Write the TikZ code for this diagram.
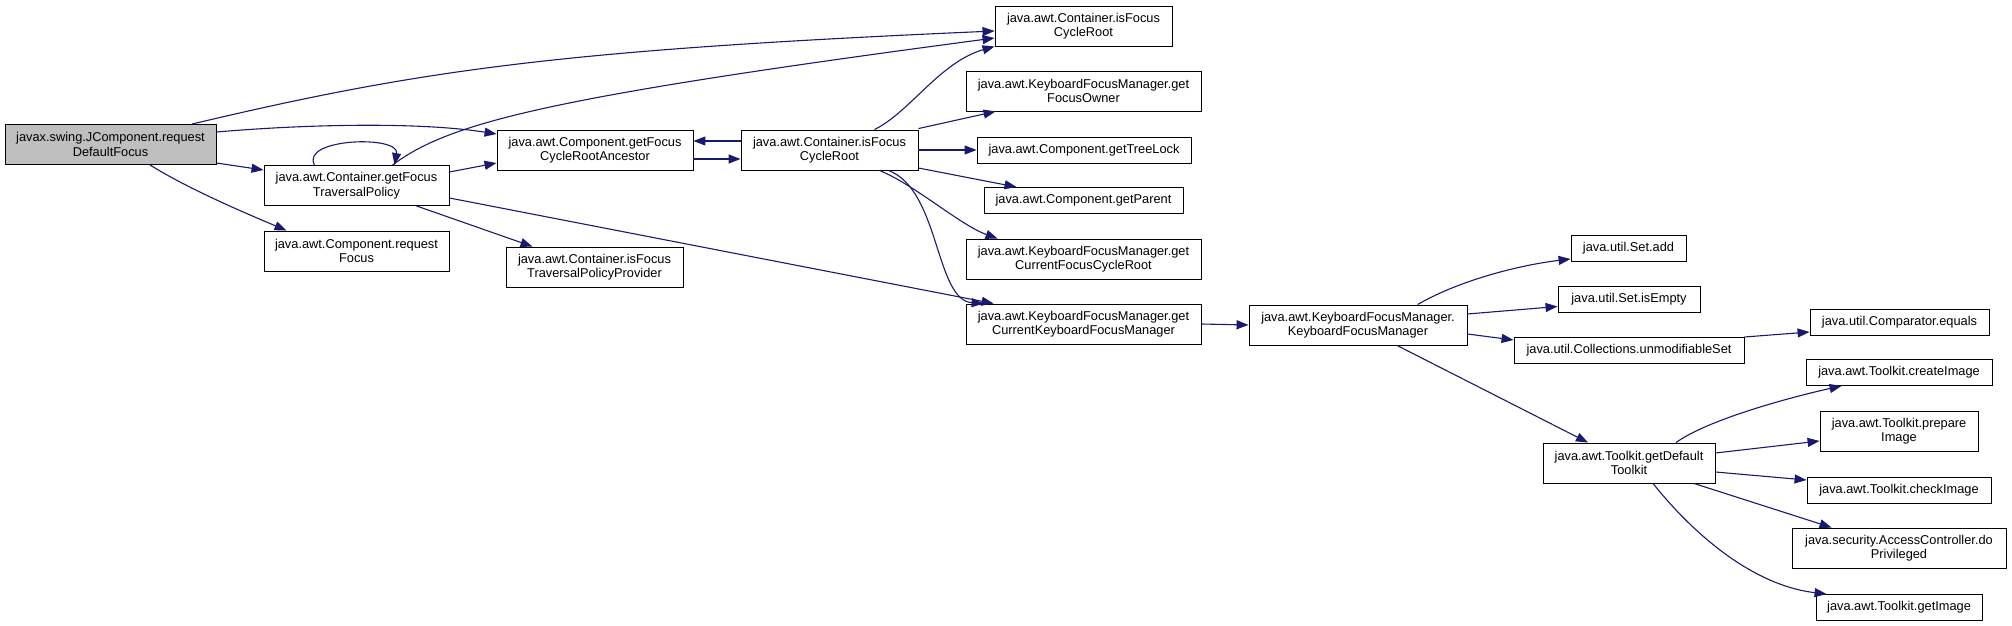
\documentclass[tikz,border=0pt]{standalone}
\usepackage{fontspec}
\setmainfont{Liberation Sans}
\usetikzlibrary{arrows.meta, calc}

\definecolor{edgeblue}{RGB}{25,25,112}
\definecolor{rootgray}{RGB}{191,191,191}

\begin{document}
\begin{tikzpicture}[
    x=1pt, y=-1pt,
    box/.style={draw=black, line width=0.9pt, fill=white, inner sep=0pt, minimum height=40pt, align=center, font=\fontsize{12.8}{14.5}\selectfont},
    onebox/.style={box, minimum height=26pt},
    arrow/.style={-{Triangle[length=12pt, width=9pt]}, edgeblue, line width=1.1pt}
]
\useasboundingbox (0,0) rectangle (2012,626);

% --- Caller ---
\node[box, fill=rootgray, minimum width=211pt] (root) at (110.5,144.5) {javax.swing.JComponent.request\\DefaultFocus};

% --- Column 1 ---
\node[box, minimum width=185pt] (ftp) at (356.5,185.5) {java.awt.Container.getFocus\\TraversalPolicy};
\node[box, minimum width=185pt] (rf) at (356.5,251) {java.awt.Component.request\\Focus};

% --- Column 2 ---
\node[box, minimum width=196pt] (anc) at (595,150) {java.awt.Component.getFocus\\CycleRootAncestor};
\node[box, minimum width=177pt] (ftpp) at (594.5,267) {java.awt.Container.isFocus\\TraversalPolicyProvider};

% --- Column 3 ---
\node[box, minimum width=177pt] (fcr) at (829.5,150) {java.awt.Container.isFocus\\CycleRoot};

% --- Column 4 ---
\node[box, minimum width=177pt] (fcrt) at (1083.5,26) {java.awt.Container.isFocus\\CycleRoot};
\node[box, minimum width=235pt] (fo) at (1083.5,91) {java.awt.KeyboardFocusManager.get\\FocusOwner};
\node[onebox, minimum width=214pt] (tl) at (1084,150) {java.awt.Component.getTreeLock};
\node[onebox, minimum width=199pt] (par) at (1083.5,200.5) {java.awt.Component.getParent};
\node[box, minimum width=235pt] (cfcr) at (1083.5,259) {java.awt.KeyboardFocusManager.get\\CurrentFocusCycleRoot};
\node[box, minimum width=235pt] (ckfm) at (1083.5,324) {java.awt.KeyboardFocusManager.get\\CurrentKeyboardFocusManager};

% --- Column 5 ---
\node[box, minimum width=218pt] (kfm) at (1358,325) {java.awt.KeyboardFocusManager.\\KeyboardFocusManager};

% --- Column 6 ---
\node[onebox, minimum width=115pt] (sadd) at (1628.5,248.5) {java.util.Set.add};
\node[onebox, minimum width=142pt] (sempty) at (1629,299.5) {java.util.Set.isEmpty};
\node[onebox, minimum width=230pt] (unm) at (1629,350) {java.util.Collections.unmodifiableSet};
\node[box, minimum width=172pt] (dtk) at (1629,463) {java.awt.Toolkit.getDefault\\Toolkit};

% --- Column 7 ---
\node[onebox, minimum width=179pt] (cmp) at (1899.5,322) {java.util.Comparator.equals};
\node[onebox, minimum width=186pt] (ci) at (1899,372.5) {java.awt.Toolkit.createImage};
\node[box, minimum width=158pt] (pi) at (1899,431) {java.awt.Toolkit.prepare\\Image};
\node[onebox, minimum width=184pt] (chk) at (1899,490) {java.awt.Toolkit.checkImage};
\node[box, minimum width=214pt] (dp) at (1899,548) {java.security.AccessController.do\\Privileged};
\node[onebox, minimum width=166pt] (gi) at (1899,607.5) {java.awt.Toolkit.getImage};

% --- Calls from the caller ---
\draw[arrow] ($(root.north)+(81.5,0)$) .. controls (420,70) and (560,50) .. ($(fcrt.west)+(0,5)$);
\draw[arrow] ($(root.east)+(0,-12.5)$) .. controls (310,124) and (420,122) .. ($(anc.west)+(0,-16)$);
\draw[arrow] ($(root.east)+(0,18.5)$) -- ($(ftp.west)+(0,-15.5)$);
\draw[arrow] ($(root.south)+(39.5,0)$) .. controls (190,190) and (250,215) .. ($(rf.north)+(-70,0)$);

% --- Calls from getFocusTraversalPolicy ---
\draw[arrow] ($(ftp.north)+(-42,0)$) .. controls (300,138) and (400,135) .. ($(ftp.north)+(38,0)$);
\draw[arrow] ($(ftp.north)+(36,0)$) .. controls (450,122) and (550,97) .. ($(fcrt.west)+(0,12)$);
\draw[arrow] ($(ftp.east)+(0,-13.5)$) -- ($(anc.west)+(0,13)$);
\draw[arrow] ($(ftp.east)+(0,12.5)$) -- ($(ckfm.north west)+(28,0)$);
\draw[arrow] ($(ftp.south)+(60,0)$) -- ($(ftpp.north)+(-62,0)$);

% --- Ancestor and isFocusCycleRoot ---
\draw[arrow] ($(anc.east)+(0,9)$) -- ($(fcr.west)+(0,9)$);
\draw[arrow] ($(fcr.west)+(0,-9)$) -- ($(anc.east)+(0,-9)$);

% --- Calls from isFocusCycleRoot ---
\draw[arrow] ($(fcr.north)+(45,0)$) .. controls (910,112) and (940,62) .. (fcrt.south west);
\draw[arrow] ($(fcr.north east)+(0,-1)$) -- ($(fo.south west)+(30,0)$);
\draw[arrow] (fcr.east) -- (tl.west);
\draw[arrow] ($(fcr.east)+(0,18)$) -- ($(par.north west)+(33,0)$);
\draw[arrow] ($(fcr.south)+(50,0)$) .. controls (915,185) and (960,225) .. ($(cfcr.north west)+(32,0)$);
\draw[arrow] ($(fcr.south)+(59,0)$) .. controls (940,190) and (935,300) .. ($(ckfm.north west)+(18,0)$);

% --- Keyboard focus manager ---
\draw[arrow] (ckfm.east) -- (kfm.west);
\draw[arrow] ($(kfm.north)+(59.5,0)$) .. controls (1460,280) and (1520,265) .. ($(sadd.west)+(0,10.5)$);
\draw[arrow] ($(kfm.east)+(0,-11)$) -- ($(sempty.west)+(0,7)$);
\draw[arrow] ($(kfm.east)+(0,9)$) -- ($(unm.west)+(0,-10)$);
\draw[arrow] ($(unm.east)+(0,-13)$) -- ($(cmp.west)+(0,10)$);
\draw[arrow] ($(kfm.south)+(39,0)$) -- ($(dtk.north)+(-41,0)$);

% --- Toolkit ---
\draw[arrow] ($(dtk.north)+(47,0)$) .. controls (1710,418) and (1800,395) .. ($(ci.south west)+(36,0)$);
\draw[arrow] ($(dtk.east)+(0,-10)$) -- ($(pi.west)+(0,10)$);
\draw[arrow] ($(dtk.east)+(0,9)$) -- ($(chk.west)+(0,-10)$);
\draw[arrow] ($(dtk.south)+(65,0)$) -- ($(dp.north west)+(40,0)$);
\draw[arrow] ($(dtk.south)+(24,0)$) .. controls (1690,530) and (1750,585) .. ($(gi.north west)+(11,0)$);

\end{tikzpicture}
\end{document}
